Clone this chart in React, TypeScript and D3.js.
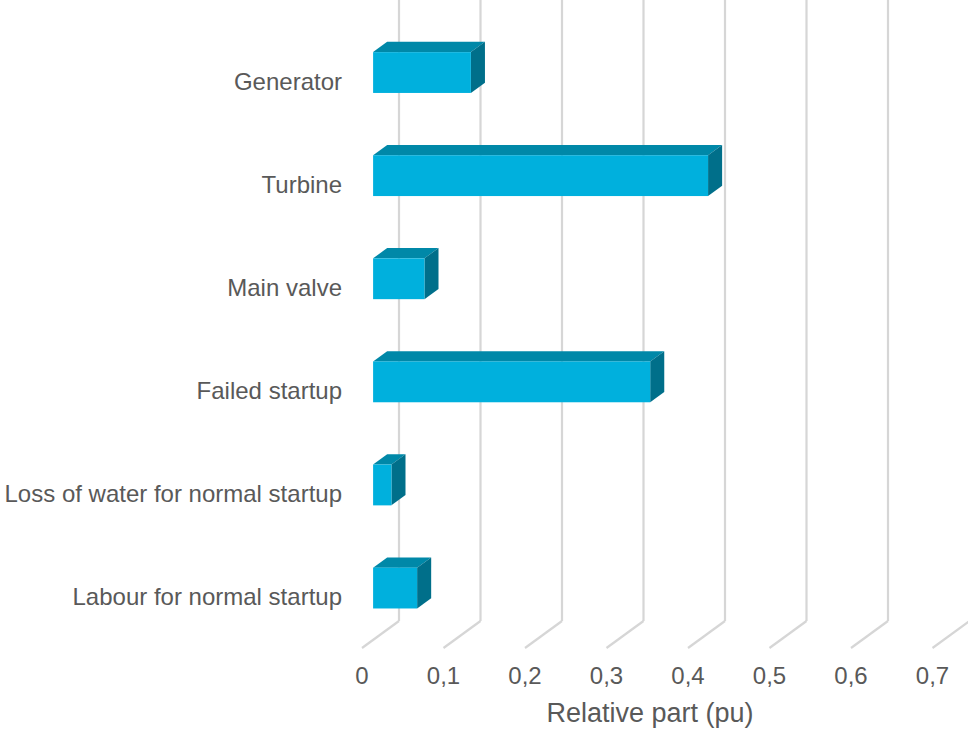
import React from "react";
import * as d3 from "d3";

const categories = [
  "Generator",
  "Turbine",
  "Main valve",
  "Failed startup",
  "Loss of water for normal startup",
  "Labour for normal startup",
];
const values = [0.12, 0.411, 0.063, 0.34, 0.0225, 0.054];
const ticks = [0, 0.1, 0.2, 0.3, 0.4, 0.5, 0.6, 0.7];
const tickLabels = ["0", "0,1", "0,2", "0,3", "0,4", "0,5", "0,6", "0,7"];
const axisTitle = "Relative part (pu)";

const W = 968;
const H = 729;
const FONT = "'Liberation Sans', Arial, sans-serif";

// Oblique projection of the depth axis: 0 = front edge of the floor, 1 = back wall
const depthX = d3.scaleLinear().domain([0, 1]).range([0, 37]);
const depthY = d3.scaleLinear().domain([0, 1]).range([0, -27]);
const BAR_FRONT = 0.3;
const BAR_BACK = 0.68;

export default function App() {
  // value scale on the front plane
  const x = d3.scaleLinear().domain([0, 0.7]).range([362, 362 + 7 * 81.5]);
  // category scale on the front plane
  const y = d3
    .scaleBand<string>()
    .domain(categories)
    .range([39.6, 637.2])
    .paddingInner(0.604)
    .paddingOuter(0.2);

  const floorFrontY = 648;
  const wallTop = 0;

  const fdx = depthX(BAR_FRONT);
  const fdy = depthY(BAR_FRONT);
  const ddx = depthX(BAR_BACK) - depthX(BAR_FRONT);
  const ddy = depthY(BAR_BACK) - depthY(BAR_FRONT);

  return (
    <svg
      width={W}
      height={H}
      style={{ position: "absolute", left: 0, top: 0, background: "#fff" }}
    >
      {/* back-wall gridlines */}
      {ticks.map((t) => {
        const bx = x(t) + depthX(1);
        const by = floorFrontY + depthY(1);
        return (
          <line key={"g" + t} x1={bx} y1={wallTop} x2={bx} y2={by} stroke="#d6d6d6" strokeWidth={2.2} />
        );
      })}

      {/* bars */}
      {categories.map((c, i) => {
        const v = values[i];
        const x0 = x(0) + fdx;
        const x1 = x(v) + fdx;
        const yt = (y(c) as number) + fdy;
        const yb = yt + y.bandwidth();
        const top = [
          [x0, yt],
          [x1, yt],
          [x1 + ddx, yt + ddy],
          [x0 + ddx, yt + ddy],
        ];
        const side = [
          [x1, yt],
          [x1 + ddx, yt + ddy],
          [x1 + ddx, yb + ddy],
          [x1, yb],
        ];
        const pts = (p: number[][]) => p.map((q) => q.join(",")).join(" ");
        return (
          <g key={c}>
            <polygon points={pts(top)} fill="#0088A8" />
            <polygon points={pts(side)} fill="#006F8A" />
            <rect x={x0} y={yt} width={x1 - x0} height={yb - yt} fill="#00B0DD" />
          </g>
        );
      })}

      {/* floor gridlines */}
      {ticks.map((t) => {
        const bx = x(t) + depthX(1);
        const by = floorFrontY + depthY(1);
        return (
          <line
            key={"f" + t}
            x1={x(t)}
            y1={floorFrontY}
            x2={bx}
            y2={by}
            stroke="#d6d6d6"
            strokeWidth={2.2}
          />
        );
      })}

      {/* category labels */}
      {categories.map((c) => (
        <text
          key={"l" + c}
          x={342}
          y={(y(c) as number) + y.bandwidth() / 2 + 0.5}
          dy="0.35em"
          textAnchor="end"
          fontFamily={FONT}
          fontSize={24}
          fill="#595959"
        >
          {c}
        </text>
      ))}

      {/* value tick labels */}
      {ticks.map((t, i) => (
        <text
          key={"t" + t}
          x={x(t)}
          y={676}
          dy="0.35em"
          textAnchor="middle"
          fontFamily={FONT}
          fontSize={24}
          fill="#595959"
        >
          {tickLabels[i]}
        </text>
      ))}

      <text
        x={650}
        y={713}
        dy="0.35em"
        textAnchor="middle"
        fontFamily={FONT}
        fontSize={27}
        fill="#595959"
      >
        {axisTitle}
      </text>
    </svg>
  );
}
